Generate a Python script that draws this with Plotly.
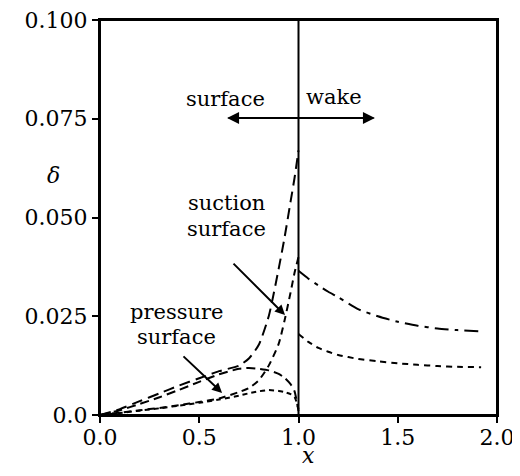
import plotly.graph_objects as go

# ---- data ----
x_surface = [0.0, 0.1, 0.2, 0.3, 0.4, 0.5, 0.6, 0.7, 0.75, 0.8, 0.85, 0.9, 0.93, 0.96, 0.98, 1.0]
suction_delta = [0.0, 0.0015, 0.0035, 0.0055, 0.0075, 0.0093, 0.0111, 0.0125, 0.0143, 0.0178, 0.025, 0.037, 0.045, 0.054, 0.060, 0.067]
suction_thick = [0.0, 0.0006, 0.0012, 0.0018, 0.0025, 0.0033, 0.0042, 0.0058, 0.0068, 0.0088, 0.0125, 0.018, 0.024, 0.031, 0.036, 0.040]
pressure_delta = [0.0, 0.0012, 0.0028, 0.0045, 0.0064, 0.0084, 0.0103, 0.0117, 0.0119, 0.0117, 0.0113, 0.0104, 0.0094, 0.0078, 0.0060, 0.0010]
pressure_thick = [0.0, 0.0005, 0.0011, 0.0017, 0.0024, 0.0031, 0.0039, 0.0049, 0.0055, 0.0060, 0.0063, 0.0061, 0.0058, 0.0053, 0.0046, 0.0015]

x_wake = [1.0, 1.05, 1.1, 1.15, 1.2, 1.3, 1.4, 1.5, 1.6, 1.7, 1.8, 1.92]
wake_delta = [0.0365, 0.0345, 0.0328, 0.0312, 0.0298, 0.0268, 0.0250, 0.0236, 0.0226, 0.0219, 0.0215, 0.0212]
wake_thick = [0.0205, 0.0185, 0.0170, 0.0160, 0.0152, 0.0142, 0.0136, 0.0131, 0.0127, 0.0124, 0.0122, 0.0121]

x_ticks = [0.0, 0.5, 1.0, 1.5, 2.0]
x_tick_labels = ["0.0", "0.5", "1.0", "1.5", "2.0"]
y_ticks = [0.0, 0.025, 0.05, 0.075, 0.1]
y_tick_labels = ["0.0", "0.025", "0.050", "0.075", "0.100"]
trailing_edge = 1.0

FONT = "DejaVu Serif"

fig = go.Figure()

def add(x, y, dash, width=2):
    fig.add_trace(go.Scatter(x=x, y=y, mode="lines",
                             line=dict(color="black", width=width, dash=dash, shape="spline", smoothing=0.6),
                             showlegend=False, hoverinfo="skip"))

add(x_surface, suction_delta, "11px,6px")
add(x_surface, suction_thick, "7px,5px")
add(x_surface, pressure_delta, "9px,5px")
add(x_surface, pressure_thick, "5px,4px")
add(x_wake, wake_delta, "14px,6px,4px,6px")
add(x_wake, wake_thick, "6px,5px")

# trailing edge vertical line
fig.add_shape(type="line", x0=trailing_edge, x1=trailing_edge, y0=0, y1=1, xref="x", yref="paper",
              line=dict(color="black", width=2))
# frame around the plot area
fig.add_shape(type="rect", x0=0, x1=1, y0=0, y1=1, xref="paper", yref="paper",
              line=dict(color="black", width=2), fillcolor="rgba(0,0,0,0)")

txt = dict(family=FONT, size=21, color="black")

# surface / wake double arrow
fig.add_annotation(x=0.64, y=0.0752, ax=1.385, ay=0.0752, xref="x", yref="y", axref="x", ayref="y",
                   text="", showarrow=True, arrowhead=2, arrowsize=1.2, arrowwidth=2, arrowcolor="black")
fig.add_annotation(x=1.385, y=0.0752, ax=0.64, ay=0.0752, xref="x", yref="y", axref="x", ayref="y",
                   text="", showarrow=True, arrowhead=2, arrowsize=1.2, arrowwidth=2, arrowcolor="black")
fig.add_annotation(x=0.63, y=0.0800, text="surface", showarrow=False, font=txt)
fig.add_annotation(x=1.18, y=0.0806, text="wake", showarrow=False, font=txt)

# suction surface label
fig.add_annotation(x=0.635, y=0.0536, text="suction", showarrow=False, font=txt)
fig.add_annotation(x=0.635, y=0.0472, text="surface", showarrow=False, font=txt)
fig.add_annotation(x=0.932, y=0.0253, ax=0.665, ay=0.0387, xref="x", yref="y", axref="x", ayref="y",
                   text="", showarrow=True, arrowhead=2, arrowsize=1.0, arrowwidth=2, arrowcolor="black")
# pressure surface label
fig.add_annotation(x=0.385, y=0.0262, text="pressure", showarrow=False, font=txt)
fig.add_annotation(x=0.385, y=0.0198, text="surface", showarrow=False, font=txt)
fig.add_annotation(x=0.615, y=0.0056, ax=0.413, ay=0.0152, xref="x", yref="y", axref="x", ayref="y",
                   text="", showarrow=True, arrowhead=2, arrowsize=1.0, arrowwidth=2, arrowcolor="black")

# axis titles
fig.add_annotation(x=(45 - 100) / 397, y=(415 - 175) / 395, xref="paper", yref="paper",
                   text="<i>δ</i>", showarrow=False, font=dict(family=FONT, size=22, color="black"))
fig.add_annotation(x=1.05, y=-0.138, xref="x", yref="paper", text="<i>x</i>", showarrow=False,
                   font=dict(family=FONT, size=22, color="black"))

tickfont = dict(family=FONT, size=22, color="black")
fig.update_xaxes(range=[0, 2], tickvals=x_ticks, ticktext=x_tick_labels, showgrid=False, zeroline=False,
                 showline=True, linecolor="black", linewidth=2, mirror=True, automargin=False,
                 ticks="outside", ticklen=6, tickwidth=2, tickcolor="black", ticklabeloverflow="allow",
                 ticklabelstandoff=-4, tickfont=tickfont)
fig.update_yaxes(range=[0, 0.1], tickvals=y_ticks, ticktext=y_tick_labels, showgrid=False, zeroline=False,
                 showline=True, linecolor="black", linewidth=2, mirror=True, automargin=False,
                 ticks="outside", ticklen=6, tickwidth=2, tickcolor="black", ticklabeloverflow="allow",
                 tickfont=tickfont)

# the page body adds an 8px offset; the figure is sized so it fits the 520x476 window
fig.update_layout(width=512, height=468, margin=dict(l=92, r=23, t=12, b=61),
                  plot_bgcolor="white", paper_bgcolor="white")

fig.write_html("out.html")
